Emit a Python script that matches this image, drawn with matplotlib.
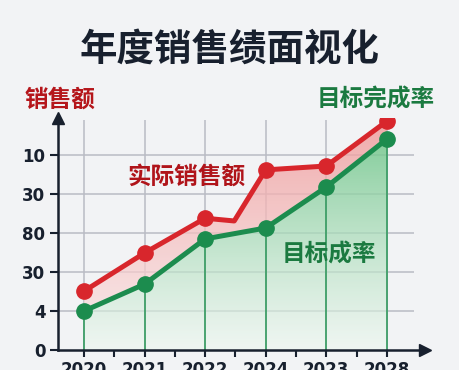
import matplotlib.pyplot as plt
import numpy as np
from matplotlib.colors import LinearSegmentedColormap
from matplotlib.patches import Polygon

plt.rcParams['font.family'] = ['Noto Sans CJK SC', 'DejaVu Sans']

# data (y in tick-step units)
years = ["2020", "2021", "2022", "2024", "2023", "2028"]
y_labels = ["0", "4", "30", "80", "30", "10"]
sales_x = [0, 1, 2, 2.48, 3, 4, 5]
sales = [1.51, 2.49, 3.38, 3.31, 4.62, 4.72, 5.87]
target = [1.0, 1.69, 2.85, 3.13, 4.18, 5.41]

RED = "#d8262c"
GREEN = "#1c8c4e"
DARK = "#18202e"

fig = plt.figure(figsize=(4.6, 3.7), dpi=100, facecolor="#f2f3f5")
ax = fig.add_axes([0.126, 0.054, 0.798, 0.627])
ax.set_facecolor("none")
ax.set_xlim(-0.43, 5.63)
ax.set_ylim(0, 5.95)

x = np.arange(len(years))

# grid
ax.hlines(range(1, 6), -0.43, 5.45, color="#b9bcc4", lw=1.1, zorder=1)
ax.vlines(x, 0, 5.9, color="#b9bcc4", lw=1.1, zorder=1)

# green gradient area under target line
green_cmap = LinearSegmentedColormap.from_list(
    "g", [(0.93, 0.97, 0.94, 0.6), (0.45, 0.78, 0.55, 0.85)])
grad = np.linspace(0, 1, 256).reshape(-1, 1)
img = ax.imshow(grad, extent=[x[0], x[-1], 0, max(target)], origin="lower",
                aspect="auto", cmap=green_cmap, zorder=2)
green_poly = Polygon(list(zip(x, target)) + [(x[-1], 0), (x[0], 0)],
                     closed=True, facecolor="none", edgecolor="none")
ax.add_patch(green_poly)
img.set_clip_path(green_poly)

# pink area between the two lines
red_pts = list(zip(sales_x, sales)) + list(zip(x[::-1], target[::-1]))
red_cmap = LinearSegmentedColormap.from_list(
    "r", [(0.98, 0.86, 0.86, 0.7), (0.94, 0.6, 0.6, 0.8)])
img2 = ax.imshow(grad, extent=[x[0], x[-1], min(target), max(sales)],
                 origin="lower", aspect="auto", cmap=red_cmap, zorder=2)
red_poly = Polygon(red_pts, closed=True, facecolor="none", edgecolor="none")
ax.add_patch(red_poly)
img2.set_clip_path(red_poly)

# green drop lines
ax.vlines(x, 0, target, color="#3f9f68", lw=1.3, zorder=3)

# lines
ax.plot(sales_x, sales, color=RED, lw=3.6, zorder=5, solid_joinstyle="round")
ax.plot(x, sales[:3] + sales[4:], "o", color=RED, ms=11, zorder=6)
ax.plot(x, target, color=GREEN, lw=3.6, marker="o", ms=11, zorder=5,
        solid_joinstyle="round")

# axes styling
for s in ["top", "right"]:
    ax.spines[s].set_visible(False)
for s in ["left", "bottom"]:
    ax.spines[s].set_color(DARK)
    ax.spines[s].set_linewidth(1.8)
    ax.spines[s].set_zorder(7)
ax.plot(0, 1, "^", color=DARK, ms=8, transform=ax.transAxes, clip_on=False)
ax.plot(1, 0, ">", color=DARK, ms=8, transform=ax.transAxes, clip_on=False)

ax.set_yticks(range(6))
ax.set_yticklabels(y_labels, fontsize=12, fontweight="bold", color=DARK,
                   family="DejaVu Sans")
ax.set_xticks(x)
ax.set_xticks(x[:-1] + 0.5, minor=True)
ax.set_xticklabels(years, fontsize=12, fontweight="bold", color=DARK,
                   family="DejaVu Sans")
ax.tick_params(axis="y", length=6, width=1.5, color=DARK, pad=3)
ax.tick_params(axis="x", which="both", length=5, width=1.5, color=DARK, pad=3)

# labels
fig.text(0.499, 0.866, "年度销售绩面视化", ha="center", va="center",
         fontsize=27, fontweight=900, color=DARK)
fig.text(0.054, 0.732, "销售额", ha="left", va="center",
         fontsize=17, fontweight="bold", color="#b5161b")
fig.text(0.946, 0.732, "目标完成率", ha="right", va="center",
         fontsize=17, fontweight="bold", color="#1b7a40")
ax.text(0.71, 4.45, "实际销售额", ha="left", va="center",
        fontsize=17, fontweight="bold", color="#b0141a", zorder=8)
ax.text(3.27, 2.45, "目标成率", ha="left", va="center",
        fontsize=17, fontweight="bold", color="#1b7a40", zorder=8)

plt.savefig("out.png", dpi=100, facecolor=fig.get_facecolor())
